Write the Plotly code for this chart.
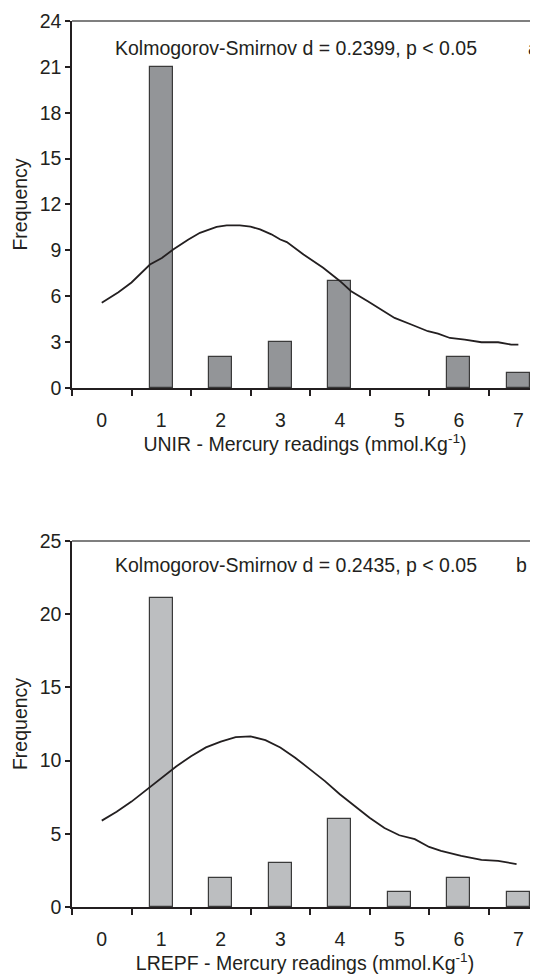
import plotly.graph_objects as go

# ---- data ----
categories = [0, 1, 2, 3, 4, 5, 6, 7]
freq_unir = [0, 21, 2, 3, 7, 0, 2, 1]
freq_lrepf = [0, 21.1, 2, 3, 6, 1, 2, 1]

curve_unir_x = [0, 0.28, 0.5, 0.81, 1.01, 1.2, 1.45, 1.65, 1.93, 2.1, 2.32, 2.5, 2.66, 2.85, 3.0, 3.11,
                3.39, 3.72, 4.0, 4.19, 4.47, 4.7, 4.92, 5.2, 5.48, 5.65, 5.85, 6.1, 6.38, 6.66, 6.88, 7.0]
curve_unir_y = [5.57, 6.26, 6.9, 8.07, 8.5, 9.06, 9.7, 10.15, 10.54, 10.63, 10.63, 10.55, 10.37, 10.05, 9.71, 9.54,
                8.73, 7.86, 7.0, 6.33, 5.67, 5.1, 4.58, 4.15, 3.71, 3.56, 3.27, 3.16, 2.99, 2.99, 2.84, 2.84]

curve_lrepf_x = [0, 0.25, 0.5, 0.75, 1.0, 1.25, 1.5, 1.75, 2.0, 2.25, 2.5, 2.75, 3.0, 3.25, 3.5, 3.75,
                 4.0, 4.25, 4.5, 4.75, 5.0, 5.26, 5.5, 5.7, 6.04, 6.38, 6.66, 6.97]
curve_lrepf_y = [5.9, 6.5, 7.2, 8.0, 8.8, 9.6, 10.3, 10.9, 11.3, 11.6, 11.65, 11.4, 10.9, 10.2, 9.4, 8.6,
                 7.7, 6.9, 6.1, 5.4, 4.9, 4.63, 4.1, 3.83, 3.49, 3.22, 3.15, 2.93]

ks_text_a = "Kolmogorov-Smirnov d = 0.2399, p < 0.05"
ks_text_b = "Kolmogorov-Smirnov d = 0.2435, p < 0.05"
xtitle_a = "UNIR - Mercury readings (mmol.Kg<sup>-1</sup>)"
xtitle_b = "LREPF - Mercury readings (mmol.Kg<sup>-1</sup>)"

FONT = "Liberation Sans, Arial, sans-serif"
FS = 19.5
INK = "#231f20"


def nonzero(vals):
    return [v if v > 0 else None for v in vals]


fig = go.Figure()
fig.add_trace(go.Bar(x=categories, y=nonzero(freq_unir), width=0.39, xaxis="x", yaxis="y",
                     marker=dict(color="#939598", line=dict(color="#3a3a3a", width=1.2))))
fig.add_trace(go.Scatter(x=curve_unir_x, y=curve_unir_y, mode="lines", xaxis="x", yaxis="y",
                         line=dict(color=INK, width=1.8)))
fig.add_trace(go.Bar(x=categories, y=nonzero(freq_lrepf), width=0.39, xaxis="x2", yaxis="y2",
                     marker=dict(color="#bcbec0", line=dict(color="#3a3a3a", width=1.2))))
fig.add_trace(go.Scatter(x=curve_lrepf_x, y=curve_lrepf_y, mode="lines", xaxis="x2", yaxis="y2",
                         line=dict(color=INK, width=1.8)))

xcommon = dict(range=[-0.5, 7.33], tickvals=categories, ticktext=[str(c) for c in categories],
               ticks="", showline=True, linecolor=INK, linewidth=1.5, mirror=False,
               showgrid=False, zeroline=False, ticklabelstandoff=14,
               minor=dict(tickvals=[-0.5, 0.5, 1.5, 2.5, 3.5, 4.5, 5.5, 6.5], ticks="outside",
                          ticklen=6, tickwidth=1.5, tickcolor=INK, showgrid=False),
               tickfont=dict(family=FONT, size=FS, color=INK))
ycommon = dict(ticks="outside", ticklen=5, tickwidth=1.5, tickcolor=INK, showline=True,
               linecolor=INK, linewidth=1.5, showgrid=False, zeroline=False,
               tickfont=dict(family=FONT, size=FS, color=INK))

# the page body has an 8px default margin, so the figure is sized/margined to compensate
fig.update_layout(
    width=530, height=967,
    margin=dict(l=64, r=0, t=13, b=68),
    paper_bgcolor="white", plot_bgcolor="white",
    showlegend=False, bargap=0,
    font=dict(family=FONT, size=FS, color=INK),
    xaxis=dict(**xcommon, domain=[0, 1], anchor="y",
               title=dict(text=xtitle_a, standoff=4, font=dict(family=FONT, size=FS, color=INK))),
    yaxis=dict(**ycommon, domain=[0.5858, 1], anchor="x", range=[0, 24], tickvals=list(range(0, 25, 3)),
               title=dict(text="Frequency", standoff=7, font=dict(family=FONT, size=FS, color=INK))),
    xaxis2=dict(**xcommon, domain=[0, 1], anchor="y2",
                title=dict(text=xtitle_b, standoff=4, font=dict(family=FONT, size=FS, color=INK))),
    yaxis2=dict(**ycommon, domain=[0, 0.4131], anchor="x2", range=[0, 25], tickvals=list(range(0, 26, 5)),
                title=dict(text="Frequency", standoff=7, font=dict(family=FONT, size=FS, color=INK))),
)

# top border lines of each panel
for yr in ["y domain", "y2 domain"]:
    fig.add_shape(type="line", xref="paper", yref=yr, x0=0, x1=1, y0=1, y1=1,
                  line=dict(color="#555555", width=1.5))

annots = [
    (ks_text_a, "x domain", "y domain", 0.0873, 0.9264),
    ("a", "x domain", "y domain", 0.975, 0.9264),
    (ks_text_b, "x2 domain", "y2 domain", 0.0873, 0.9352),
    ("b", "x2 domain", "y2 domain", 0.948, 0.9352),
]
for txt, xr, yr, xx, yy in annots:
    fig.add_annotation(text=txt, xref=xr, yref=yr, x=xx, y=yy, xanchor="left", yanchor="middle",
                       showarrow=False, font=dict(family=FONT, size=FS, color=INK))

fig.write_html("out.html")
